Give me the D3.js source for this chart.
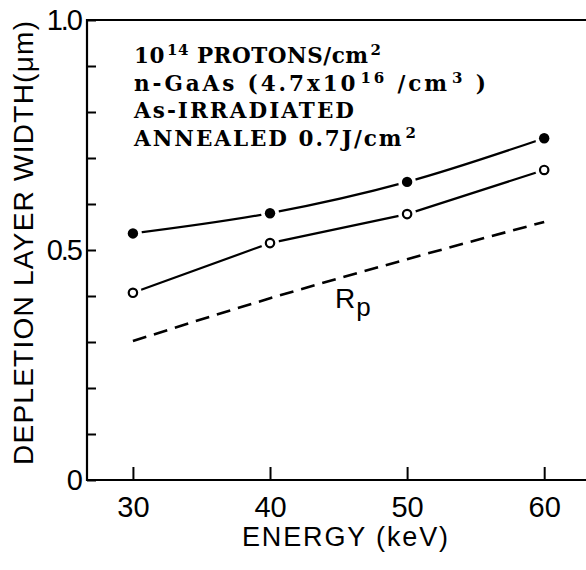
<!DOCTYPE html>
<html>
<head>
<meta charset="utf-8">
<script src="https://cdn.jsdelivr.net/npm/d3@7"></script>
<style>
  html, body { margin: 0; padding: 0; background: #fff; }
  svg { display: block; }
</style>
</head>
<body>
<svg id="chart" width="586" height="570"></svg>
<script>
// Ion energy (keV) at which each sample was measured
const energy = [30, 40, 50, 60];
// Depletion layer width (µm)
const asIrradiated = [0.536, 0.580, 0.648, 0.743];   // filled circles
const annealed = [0.407, 0.515, 0.578, 0.674];       // open circles
// Projected range Rp (µm), dashed curve
const projRange = [0.302, 0.395, 0.480, 0.561];

const xTicks = [30, 40, 50, 60];
const yTicks = [0, 0.1, 0.2, 0.3, 0.4, 0.5, 0.6, 0.7, 0.8, 0.9, 1.0];
const yLabelTicks = [0, 0.5, 1.0];
const yLabelText = ["0", "0.5", "1.0"];

const annotation = [
  [{ t: "10" }, { t: "14", sup: true }, { t: " PROTONS/cm" }, { t: "2", sup: true }],
  [{ t: "n-GaAs (4.7x10" }, { t: "16", sup: true }, { t: " /cm" }, { t: "3", sup: true }, { t: " )" }],
  [{ t: "As-IRRADIATED" }],
  [{ t: "ANNEALED 0.7J/cm" }, { t: "2", sup: true }]
];
const annotationWidths = [247, 352, 220, 282];

const svg = d3.select("#chart");
const plotLeft = 87, plotRight = 586, plotTop = 20, plotBottom = 480;

const x = d3.scaleLinear().domain([26.65, 63.05]).range([plotLeft, plotRight]);
const y = d3.scaleLinear().domain([0, 1]).range([plotBottom, plotTop]);

const sans = "'Liberation Sans', Arial, sans-serif";

// frame: left axis, top and bottom lines
svg.append("path")
  .attr("d", `M${plotRight},${plotTop}H${plotLeft}V${plotBottom}H${plotRight}`)
  .attr("fill", "none").attr("stroke", "#000").attr("stroke-width", 2.2);

// y axis: inward ticks every 0.1
const gy = svg.append("g").attr("transform", `translate(${plotLeft},0)`)
  .call(d3.axisLeft(y).tickValues(yTicks).tickSize(-9).tickSizeOuter(0).tickFormat(""));
gy.select(".domain").remove();
gy.selectAll(".tick text").remove();
gy.selectAll(".tick line").attr("stroke", "#000").attr("stroke-width", 2);

// y labels at 0, 0.5 and 1.0
const gyl = svg.append("g").attr("transform", `translate(${plotLeft},0)`)
  .call(d3.axisLeft(y).tickValues(yLabelTicks).tickSize(0).tickPadding(6)
    .tickFormat((d, i) => yLabelText[i]));
gyl.select(".domain").remove();
gyl.selectAll(".tick line").remove();
gyl.selectAll(".tick text")
  .attr("font-family", sans).attr("font-size", 29).attr("fill", "#000")
  .attr("letter-spacing", -2);

// x axis: upward ticks at 30..60
const gx = svg.append("g").attr("transform", `translate(0,${plotBottom})`)
  .call(d3.axisBottom(x).tickValues(xTicks).tickSize(-13).tickSizeOuter(0)
    .tickPadding(16).tickFormat(d3.format("d")));
gx.select(".domain").remove();
gx.selectAll(".tick line").attr("stroke", "#000").attr("stroke-width", 2);
gx.selectAll(".tick text")
  .attr("font-family", sans).attr("font-size", 29).attr("fill", "#000");

// axis titles
svg.append("text")
  .attr("x", 345).attr("y", 546)
  .attr("text-anchor", "middle")
  .attr("font-family", sans).attr("font-size", 27)
  .attr("textLength", 206).attr("lengthAdjust", "spacing")
  .text("ENERGY (keV)");

svg.append("text")
  .attr("transform", "translate(33,243) rotate(-90)")
  .attr("text-anchor", "middle")
  .attr("font-family", sans).attr("font-size", 28)
  .attr("textLength", 444).attr("lengthAdjust", "spacing")
  .text("DEPLETION LAYER WIDTH(\u03bcm)");

// data curves
const smooth = d3.line()
  .x((d, i) => x(energy[i]))
  .y(d => y(d))
  .curve(d3.curveMonotoneX);
const straight = d3.line()
  .x((d, i) => x(energy[i]))
  .y(d => y(d));

svg.append("path").datum(projRange)
  .attr("d", smooth)
  .attr("fill", "none").attr("stroke", "#000")
  .attr("stroke-width", 2.6).attr("stroke-dasharray", "14,8");

svg.append("path").datum(asIrradiated)
  .attr("d", smooth)
  .attr("fill", "none").attr("stroke", "#000").attr("stroke-width", 2.2);
svg.append("path").datum(annealed)
  .attr("d", straight)
  .attr("fill", "none").attr("stroke", "#000").attr("stroke-width", 2.2);

// markers with a white halo so the curves stop short of them
function markers(series, filled) {
  const g = svg.append("g");
  g.selectAll("circle.halo").data(series).join("circle")
    .attr("class", "halo")
    .attr("cx", (d, i) => x(energy[i])).attr("cy", d => y(d))
    .attr("r", 9).attr("fill", "#fff");
  g.selectAll("circle.mark").data(series).join("circle")
    .attr("class", "mark")
    .attr("cx", (d, i) => x(energy[i])).attr("cy", d => y(d))
    .attr("r", filled ? 5.2 : 4.2)
    .attr("fill", filled ? "#000" : "#fff")
    .attr("stroke", "#000").attr("stroke-width", filled ? 0 : 2.2);
}
markers(asIrradiated, true);
markers(annealed, false);

// Rp label
const rp = svg.append("text")
  .attr("x", 335).attr("y", 308)
  .attr("font-family", sans).attr("font-size", 28);
rp.append("tspan").text("R");
rp.append("tspan").attr("dy", 8).attr("dx", 1).attr("font-size", 26).text("p");

// annotation block; superscripts are raised tspans, the following run drops back
const serif = "'DejaVu Serif', 'Liberation Serif', serif";
annotation.forEach((parts, li) => {
  const t = svg.append("text")
    .attr("x", 134).attr("y", 63 + li * 27.7)
    .attr("font-family", serif).attr("font-weight", "bold")
    .attr("font-size", 21.5)
    .attr("textLength", annotationWidths[li]).attr("lengthAdjust", "spacing")
    .attr("fill", "#000");
  let shift = 0;
  parts.forEach(p => {
    const s = t.append("tspan").text(p.t);
    if (p.sup) {
      s.attr("font-size", 15).attr("dy", -8 - shift).attr("dx", 2);
      shift = -8;
    } else {
      if (shift) s.attr("dy", -shift);
      shift = 0;
    }
  });
});
</script>
</body>
</html>
